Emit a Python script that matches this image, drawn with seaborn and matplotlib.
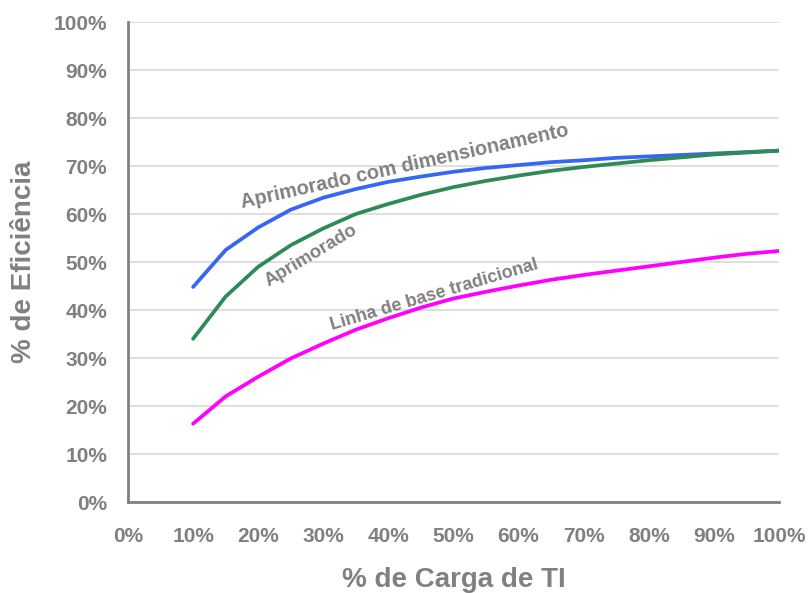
import matplotlib
matplotlib.use("Agg")
import matplotlib.pyplot as plt
from matplotlib.ticker import MultipleLocator, FuncFormatter
import numpy as np
import pandas as pd
import seaborn as sns

# IT load (%) at which efficiency was measured
load_pct = [10, 15, 20, 25, 30, 35, 40, 45, 50, 55, 60, 65, 70, 75, 80, 85, 90, 95, 100]

# Efficiency (%) for each configuration
eff_sized = [44.8, 52.5, 57.2, 60.9, 63.4, 65.2, 66.7, 67.8, 68.8, 69.6,
             70.2, 70.8, 71.2, 71.7, 72.0, 72.3, 72.6, 72.9, 73.2]
eff_improved = [34.0, 42.8, 49.0, 53.5, 57.0, 60.0, 62.1, 64.0, 65.6, 66.9,
                68.0, 69.0, 69.8, 70.5, 71.2, 71.8, 72.4, 72.8, 73.2]
eff_baseline = [16.3, 22.0, 26.1, 29.9, 33.0, 35.9, 38.3, 40.5, 42.4, 43.8,
                45.1, 46.3, 47.3, 48.2, 49.1, 50.0, 50.9, 51.7, 52.3]

series_names = ["Aprimorado com dimensionamento", "Aprimorado", "Linha de base tradicional"]
series_colors = ["#3666F4", "#2E8B57", "#FF00FF"]

df = pd.DataFrame({
    "carga": load_pct * 3,
    "eficiencia": eff_sized + eff_improved + eff_baseline,
    "serie": np.repeat(series_names, len(load_pct)),
})

sns.set_style("white")
plt.rcParams["font.family"] = ["Liberation Sans", "DejaVu Sans"]

grey = "#808080"
fig = plt.figure(figsize=(8.11, 5.93), dpi=100)
ax = fig.add_axes([128 / 811, 1 - 502 / 593, 651 / 811, 480 / 593])

sns.lineplot(data=df, x="carga", y="eficiencia", hue="serie",
             hue_order=series_names, palette=series_colors,
             linewidth=2.7, legend=False, ax=ax)

ax.set_xlim(0, 100)
ax.set_ylim(0, 100)
ax.xaxis.set_major_locator(MultipleLocator(10))
ax.xaxis.set_minor_locator(MultipleLocator(5))
ax.yaxis.set_major_locator(MultipleLocator(10))
pct = FuncFormatter(lambda v, _: f"{v:.0f}%")
ax.xaxis.set_major_formatter(pct)
ax.yaxis.set_major_formatter(pct)

ax.grid(axis="y", color="#d9d9d9", linewidth=1.2)
ax.set_axisbelow(True)
for side in ("top", "right"):
    ax.spines[side].set_visible(False)
for side in ("left", "bottom"):
    ax.spines[side].set_color(grey)
    ax.spines[side].set_linewidth(2)

ax.tick_params(axis="both", which="both", color=grey, width=1.5, direction="out")
ax.tick_params(axis="x", which="both", length=5, pad=13)
ax.tick_params(axis="y", which="major", length=6, pad=9)
for lbl in ax.get_xticklabels() + ax.get_yticklabels():
    lbl.set_fontsize(15)
    lbl.set_fontweight("bold")
    lbl.set_color(grey)

ax.set_xlabel("% de Carga de TI", fontsize=20, fontweight="bold", color=grey, labelpad=15)
ax.set_ylabel("% de Eficiência", fontsize=20, fontweight="bold", color=grey, labelpad=12)

# Curve labels written along each line
label_style = dict(color=grey, fontweight="bold", rotation_mode="anchor",
                   ha="left", va="baseline")
ax.text(17.6, 61.3, series_names[0], fontsize=14.3, rotation=12.5, **label_style)
ax.text(21.6, 44.8, series_names[1], fontsize=13.3, rotation=31, **label_style)
ax.text(31.4, 35.9, series_names[2], fontsize=13, rotation=16.5, **label_style)

fig.savefig("out.png", dpi=100)
